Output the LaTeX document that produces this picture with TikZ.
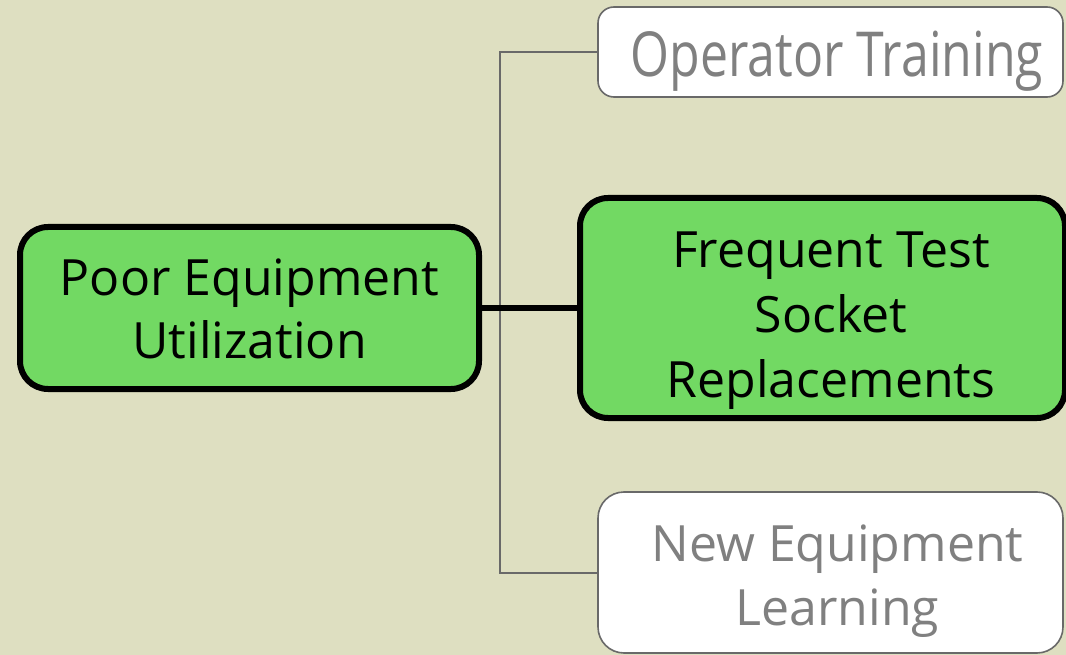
\documentclass[tikz,border=0pt]{standalone}
\usepackage{graphicx}
\usepackage{fontspec}
\setmainfont{Open Sans}
\definecolor{bgolive}{RGB}{222,223,193}
\definecolor{leafgreen}{RGB}{114,217,99}
\definecolor{softgray}{RGB}{128,128,128}
\definecolor{linegray}{RGB}{105,105,105}
\begin{document}
\begin{tikzpicture}[x=1pt,y=-1pt,
  every node/.style={inner sep=0pt,outer sep=0pt},
  mainbox/.style={draw=black,line width=6pt,fill=leafgreen,rounded corners=28pt},
  sidebox/.style={draw=linegray,line width=1.6pt,fill=white,rounded corners=16pt},
  line/.style={anchor=base,font=\fontsize{50}{63}\selectfont},
  mainline/.style={line,text=black},
  sideline/.style={line,text=softgray},
  branch/.style={draw=linegray,line width=2pt},
  trunk/.style={draw=black,line width=6pt}]
\clip (0,0) rectangle (1066,655);
\fill[bgolive] (0,0) rectangle (1066,655);
\useasboundingbox (0,0) rectangle (1066,655);

% boxes
\node[mainbox,minimum width=459pt,minimum height=162pt] (problem) at (249.5,308) {};
\node[mainbox,minimum width=485pt,minimum height=220pt] (cause) at (822.5,308) {};
\node[sidebox,minimum width=465pt,minimum height=90pt] (training) at (830.5,52) {};
\node[sidebox,rounded corners=26pt,minimum width=465pt,minimum height=161pt] (learning) at (830.5,572.5) {};

% box texts, one node per line
\node[mainline] (problem1) at (249.5,295) {Poor Equipment};
\node[mainline] (problem2) at (249.5,358) {Utilization};
\node[mainline] (cause1) at (831,268) {Frequent Test};
\node[mainline] (cause2) at (831,332.5) {Socket};
\node[mainline] (cause3) at (831,397) {Replacements};
\node[sideline] (training1) at (837,77) {\scalebox{1}[1.24]{Operator Training}};
\node[sideline] (learning1) at (837.5,561) {New Equipment};
\node[sideline] (learning2) at (837.5,625) {Learning};

% connectors
\coordinate (fork) at (500,52);
\draw[branch] (training.west) -- (fork) |- (learning.west);
\draw[trunk] (problem.east) -- (cause.west);
\end{tikzpicture}
\end{document}
